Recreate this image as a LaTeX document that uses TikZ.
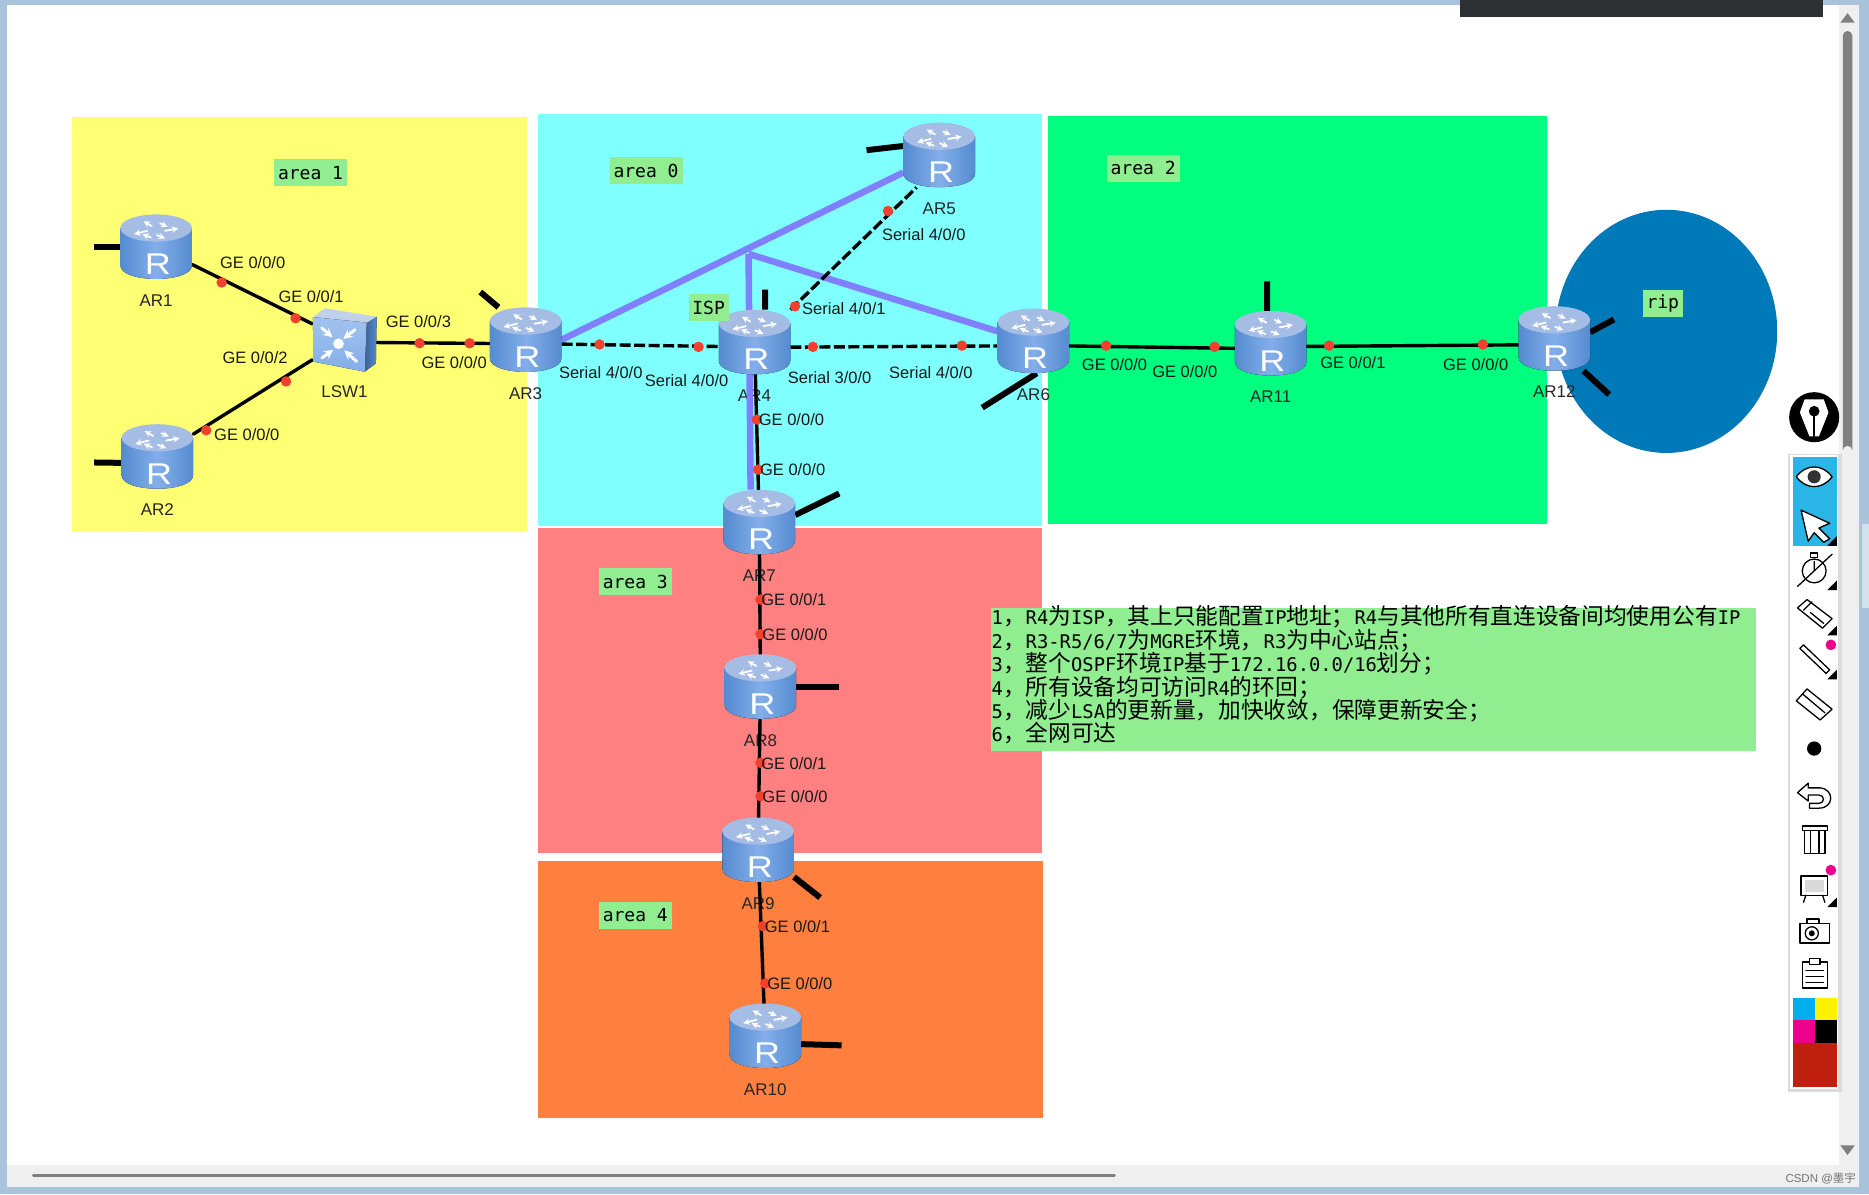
\documentclass[tikz,border=0pt]{standalone}
\usepackage{fontspec}
\setmainfont{Liberation Sans}
\setmonofont{DejaVu Sans Mono}
\newfontfamily\cjk{Noto Sans CJK SC}
\usetikzlibrary{positioning}
\newcommand{\zh}[1]{{\fontsize{22.7}{23.4}\selectfont\cjk #1}}
\definecolor{framecol}{HTML}{A9C3DC}
\definecolor{guttercol}{HTML}{EFEFEF}
\definecolor{darkbar}{HTML}{2D3134}
\definecolor{areaone}{HTML}{FFFF73}
\definecolor{areazero}{HTML}{80FFFF}
\definecolor{areatwo}{HTML}{00FF7F}
\definecolor{areathree}{HTML}{FF8080}
\definecolor{areafour}{HTML}{FF7F3F}
\definecolor{ripcol}{HTML}{0079B8}
\definecolor{notecol}{HTML}{90EE90}
\definecolor{tunnelcol}{HTML}{8080FF}
\definecolor{dotcol}{HTML}{F2402F}
\definecolor{bodyside}{HTML}{558BD0}
\definecolor{bodymid}{HTML}{83AEEA}
\definecolor{topcol}{HTML}{A5BDE4}
\definecolor{toolblue}{HTML}{29B5E6}
\definecolor{palcyan}{HTML}{00AEEF}
\definecolor{palred}{HTML}{BF2010}
\tikzset{
	device/.style={minimum width=71.5pt, minimum height=64.4pt, inner sep=0pt},
	devtext/.style={inner sep=0pt, text=black!85, font=\fontsize{17}{17}\selectfont},
	porttext/.style={inner sep=0pt, text=black!90, font=\fontsize{16.5}{17}\selectfont},
	areatag/.style={fill=notecol, inner sep=0pt, minimum width=73pt, minimum height=27pt, font=\ttfamily\fontsize{18}{18}\selectfont},
	shorttag/.style={areatag, minimum width=40pt},
	link/.style={line width=3.4pt, black},
	serial/.style={line width=3.4pt, black, line cap=butt, dash pattern=on 11pt off 3.5pt},
	tunnel/.style={line width=6.5pt, tunnelcol, line cap=butt},
	stub/.style={line width=6pt, black, line cap=butt},
	reddot/.style={fill=dotcol},
	icon/.style={line width=1.3pt, black, fill=white},
	router/.pic={
		\fill[left color=bodyside, right color=bodyside, middle color=bodymid] (-30,-15.7) -- (-30,15.7) .. controls (-30,30.8) and (30,30.8) .. (30,15.7) -- (30,-15.7) -- cycle;
		\fill[topcol] (0,-15.7) ellipse [x radius=30, y radius=11.4];
		\foreach \xa/\ya/\xb/\yb in {-3.6/-17.3/-10.6/-21.3, -7.3/-13.4/-18.5/-10.6, 7.5/-13.4/18.7/-15.4, 0.6/-9.8/7.5/-7, 3.4/-19.6/9.5/-16.8, -4.5/-7.8/-11.5/-10.6}
			\draw[->, white, line width=1.8pt] (\xa,\ya) -- (\xb,\yb);
		\node[inner sep=0pt, text=white, font=\fontsize{30}{30}\selectfont] (letter) at (1.5,14.7) {\scalebox{1.2}[1]{R}};
	},
	switchicon/.pic={
		\fill[left color=bodyside!70!black, right color=bodyside] (18.6,-14.3) -- (27,-19.3) -- (26.4,19.8) -- (17,26.8) -- cycle;
		\fill[topcol!70!white] (-26.5,-19) -- (-16.4,-26.4) -- (27,-19.3) -- (18.6,-14.3) -- cycle;
		\fill[top color=bodymid!75!white, bottom color=bodymid] (-26.5,-19) -- (18.6,-14.3) -- (17,26.8) -- (-26.2,18.4) -- cycle;
		\fill[white] (-5,3.4) circle (4.5);
		\foreach \xa/\ya/\xb/\yb in {-19/-9.8/-10/-2, 8.8/-8.4/-1/-0.6, -19/15.4/-9.4/8.4, 10.2/18.2/-0.2/9}
			\draw[->, white, line width=3pt] (\xa,\ya) -- (\xb,\yb);
	}
}
\begin{document}
\begin{tikzpicture}[>=stealth, line join=round, line cap=round, x=1.192pt, y=-1.192pt]
	\useasboundingbox (0,0) rectangle (1568,1002);
	\fill[framecol] (0,0) rectangle (1568,1002);
	\fill[white] (6,4) rectangle (1543,977);
	\fill[guttercol] (1543,4) rectangle (1560,996);
	\fill[guttercol] (6,977) rectangle (1560,996);
	\fill[framecol!50!white] (1562,440) rectangle (1568,510);
	\fill[black!50] (1546,30) -- (1546,378) arc [start angle=180, end angle=360, radius=4] -- (1554,30) arc [start angle=0, end angle=-180, radius=4] -- cycle;
	\fill[black!50] (1550,11) -- (1556,19) -- (1544,19) -- cycle;
	\fill[black!50] (1544,961) -- (1556,961) -- (1550,969) -- cycle;
	\draw[black!50, line width=3pt] (28,986) -- (935,986);
	\fill[darkbar] (1225,0) rectangle (1529,14);

	\fill[areaone] (60,98) rectangle (442,446);
	\fill[areazero] (451,96) rectangle (874,441);
	\fill[areatwo] (879,97) rectangle (1298,440);
	\fill[areathree] (451,443) rectangle (874,716);
	\fill[areafour] (451,722) rectangle (875,938);
	\fill[ripcol] (1398,278) ellipse [x radius=93, y radius=102];

	\foreach \name/\x/\y in {AR1/131/207, AR2/132/383, AR3/441/285, AR4/633/287, AR5/788/130, AR6/867/286, AR7/637/438, AR8/638/576, AR9/636/713, AR10/642/869, AR11/1066/288, AR12/1304/284} {
		\node[device] (\name) at (\x,\y) {};
		\node[devtext, below=15pt of \name] (\name-text) {\name};
	}
	\node[device, minimum width=64pt, minimum height=62pt] (LSW1) at (289,285) {};
	\node[devtext, below=15pt of LSW1] (LSW1-text) {LSW1};
	\coordinate (hub) at (628,213);

	\draw[tunnel] (AR3.east) -- (AR5);
	\draw[tunnel] (hub) -- (AR6.165);
	\draw[tunnel] (hub) -- (AR7.105);
	\draw[link] (AR1) -- (LSW1);
	\draw[link] (AR2) -- (LSW1);
	\draw[link] (LSW1.-5) -- (AR3.-174);
	\draw[link] (AR4) -- (AR7);
	\draw[link] (AR7) -- (AR8);
	\draw[link] (AR8) -- (AR9);
	\draw[link] (AR9) -- (AR10);
	\draw[link] (AR6.-8) -- (AR11.-172);
	\draw[link] (AR11.-5) -- (AR12.-170);
	\draw[serial] (AR3.-7) -- (AR4.-173);
	\draw[serial] (AR4.-8) -- (AR6.-172);
	\draw[serial] (AR4.north east) -- (AR5.-125);
	\foreach \name/\a/\x/\y in {AR1/180/79/207, AR2/-170/79/388, AR3/130/403/245, AR4/72/642/243, AR5/166/727/126, AR6/-84/824/342, AR7/11/704/414, AR8/0/704/576, AR9/-37/688/753, AR10/-13/706/877, AR11/96/1063/236, AR12/10/1354/268, AR12/-48/1350/331}
		\draw[stub] (\name.\a) -- (\x,\y);

	\foreach \name in {AR1,AR2,AR3,AR4,AR5,AR6,AR7,AR8,AR9,AR10,AR11,AR12}
		\pic at (\name) {router};
	\pic at (LSW1) {switchicon};

	\foreach \x/\y in {186/237, 248/267, 240/320, 173/361, 352/288, 394/288, 503/289, 586/291, 682/291, 807/290, 667/257, 745/177, 635/352, 636/394, 638/503, 638/532, 638/640, 638/668, 640/777, 642/825, 928/290, 1019/291, 1115/290, 1244/289}
		\fill[reddot] (\x,\y) circle (4.4);

	\foreach \x/\y/\t [count=\i] in {212/220/{GE 0/0/0}, 261/249/{GE 0/0/1}, 351/270/{GE 0/0/3}, 214/300/{GE 0/0/2}, 381/304/{GE 0/0/0}, 207/365/{GE 0/0/0}, 504/313/{Serial 4/0/0}, 576/319/{Serial 4/0/0}, 696/317/{Serial 3/0/0}, 781/313/{Serial 4/0/0}, 708/259/{Serial 4/0/1}, 775/197/{Serial 4/0/0}, 664/352/{GE 0/0/0}, 665/394/{GE 0/0/0}, 666/503/{GE 0/0/1}, 667/532/{GE 0/0/0}, 666/641/{GE 0/0/1}, 667/668/{GE 0/0/0}, 669/777/{GE 0/0/1}, 671/825/{GE 0/0/0}, 935/306/{GE 0/0/0}, 994/312/{GE 0/0/0}, 1135/304/{GE 0/0/1}, 1238/306/{GE 0/0/0}}
		\node[porttext] (port\i) at (\x,\y) {\t};

	\node[areatag] (tag1) at (260.5,145) {area 1};
	\node[areatag] (tag0) at (542,143) {area 0};
	\node[areatag] (tag2) at (959,141) {area 2};
	\node[areatag] (tag3) at (533,488) {area 3};
	\node[areatag] (tag4) at (533,768) {area 4};
	\node[shorttag] (tagisp) at (594.5,258) {ISP};
	\node[shorttag] (tagrip) at (1395,255) {rip};

	\node[fill=notecol, anchor=north west, inner sep=0pt, minimum width=765pt, minimum height=143pt] (note) at (831,510) {};
	\node[anchor=north west, inner xsep=1pt, inner ysep=0pt, text width=763pt, align=left, font=\ttfamily\fontsize{18.8}{23.4}\selectfont] (notetext) at (831,508) {%
		1\zh{，}R4\zh{为}ISP\zh{，其上只能配置}IP\zh{地址；}R4\zh{与其他所有直连设备间均使用公有}IP\\
		2\zh{，}R3-R5/6/7\zh{为}MGRE\zh{环境，}R3\zh{为中心站点；}\\
		3\zh{，整个}OSPF\zh{环境}IP\zh{基于}172.16.0.0/16\zh{划分；}\\
		4\zh{，所有设备均可访问}R4\zh{的环回；}\\
		5\zh{，减少}LSA\zh{的更新量，加快收敛，保障更新安全；}\\
		6\zh{，全网可达}};

	\fill[black] (1522,350) circle (21);
	\fill[white] (1510,346) -- (1514,335) -- (1530,335) -- (1534,346) -- (1526,366) -- (1518,366) -- cycle;
	\fill[black] (1522,345) circle (4.5);
	\draw[line width=1.5pt] (1522,345) -- (1522,366);
	\fill[black!14] (1500,381) rectangle (1545,916);
	\fill[white] (1502,382) rectangle (1542,914);
	\fill[toolblue] (1504,383) rectangle (1541,458);
	\foreach \y in {458, 495, 533, 570, 761}
		\fill[black] (1541,\y) -- (1541,\y-8) -- (1533,\y) -- cycle;
	\draw[icon] (1507,400) .. controls (1515,389) and (1529,389) .. (1537,400) .. controls (1529,411) and (1515,411) .. (1507,400) -- cycle;
	\fill[black!80] (1522,400) circle (5.5);
	\draw[icon] (1511,428) -- (1535,439) -- (1526,443) -- (1535,452) -- (1530,455) -- (1522,447) -- (1517,454) -- cycle;
	\draw[icon] (1522,479) circle (10);
	\draw[icon] (1519,464) rectangle (1525,468);
	\draw[line width=1.3pt] (1508,492) -- (1537,465) (1522,479) -- (1522,471);
	\draw[icon] (1508,510) -- (1516,503) -- (1537,519) -- (1529,527) -- cycle;
	\draw[line width=1.3pt] (1513,512) -- (1520,505) (1519,514) -- (1530,523);
	\draw[icon] (1510,544) -- (1513,541) -- (1535,562) -- (1532,565) -- cycle;
	\fill[magenta] (1536,541) circle (4.5);
	\fill[magenta] (1536,730) circle (4.5);
	\draw[icon] (1507,588) -- (1516,578) -- (1537,595) -- (1527,604) -- cycle;
	\draw[line width=1.3pt] (1512,582) -- (1531,598);
	\fill[black] (1522,628) circle (6);
	\draw[icon] (1508,665) -- (1517,657) -- (1517,661) -- (1527,661) .. controls (1539,662) and (1539,678) .. (1526,678) -- (1518,678) -- (1518,674) -- (1526,674) .. controls (1531,674) and (1531,667) .. (1526,667) -- (1517,667) -- (1517,672) -- cycle;
	\draw[icon] (1514,696) rectangle (1531,716);
	\draw[icon] (1512,693) rectangle (1533,697);
	\draw[line width=1.1pt] (1519,697) -- (1519,716) (1526,697) -- (1526,716);
	\draw[icon] (1511,735) rectangle (1533,751);
	\fill[black!15] (1514,738) rectangle (1530,748);
	\draw[line width=1.3pt] (1515,751) -- (1513,757) (1529,751) -- (1531,757);
	\draw[icon] (1510,775) rectangle (1535,791);
	\draw[icon] (1516,771) rectangle (1526,775);
	\draw[icon] (1520,783) circle (5.5);
	\fill[black] (1520,783) circle (2.5);
	\draw[icon] (1512,807) rectangle (1533,829);
	\draw[icon] (1518,804) rectangle (1527,809);
	\foreach \y in {814, 819, 824}
		\draw[line width=1pt] (1515,\y) -- (1530,\y);
	\fill[palcyan] (1504,837) rectangle (1522.5,856);
	\fill[yellow] (1522.5,837) rectangle (1541,856);
	\fill[magenta] (1504,856) rectangle (1522.5,875);
	\fill[black] (1522.5,856) rectangle (1541,875);
	\fill[palred] (1504,875) rectangle (1541,912);

	\node[inner sep=0pt, text=black!55, font=\fontsize{11.5}{12}\selectfont] (mark) at (1527.5,989) {CSDN @{\cjk 墨宇}};
\end{tikzpicture}
\end{document}
